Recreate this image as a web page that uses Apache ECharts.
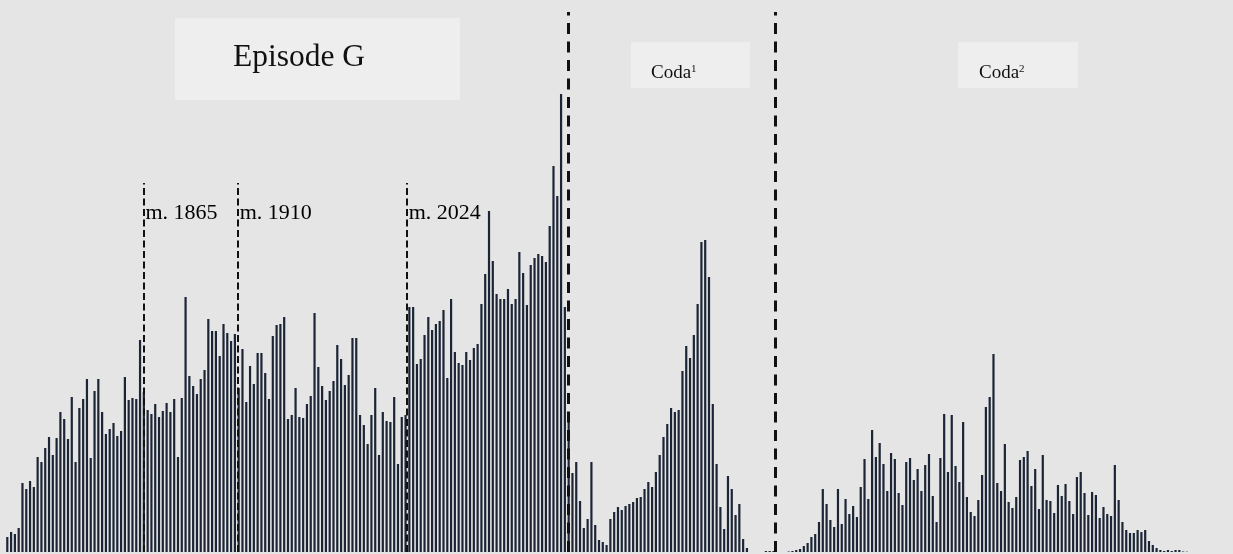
<!DOCTYPE html>
<html>
<head>
<meta charset="utf-8">
<script src="https://cdn.jsdelivr.net/npm/echarts@6/dist/echarts.min.js"></script>
<style>
  html, body { margin: 0; padding: 0; background: #ffffff; }
  #chart { width: 1233px; height: 554px; }
</style>
</head>
<body>
<div id="chart"></div>
<script>
// Per-bar activity level across the passage (one value per time slice)
const episodeG = [
  15, 20, 18, 24, 69, 63, 71, 65, 95, 90, 104, 115, 97, 114, 140, 133, 113, 155, 90, 144,
  153, 173, 94, 161, 173, 140, 118, 123, 129, 116, 121, 175, 152, 154, 153, 212, 160, 142, 138, 148,
  135, 141, 149, 140, 153, 95, 154, 255, 176, 166, 158, 173, 182, 233, 221, 221, 196, 228, 219, 211,
  218, 164, 203, 150, 186, 168, 199, 199, 179, 153, 216, 227, 228, 235, 133, 137, 164, 135, 134, 148,
  156, 239, 185, 166, 152, 161, 171, 207, 193, 167, 177, 214, 214, 137, 127, 108, 137, 164, 97, 140,
  131, 130, 155, 88, 135, 137, 245, 245, 188, 193, 217, 235, 222, 228, 231, 242, 174, 253, 200, 189,
  187, 200, 192, 204, 208, 248, 278, 341, 291, 258, 253, 253, 263, 248, 253, 300, 279, 247, 287, 294,
  298, 296, 290, 326, 386, 356, 458, 245
];
const coda1 = [
  137, 79, 90, 51, 24, 33, 90, 27, 12, 10, 7, 33, 40, 45, 42, 46, 48, 50, 54, 55,
  63, 70, 65, 80, 97, 115, 128, 144, 140, 142, 181, 206, 194, 217, 248, 310, 312, 275, 148, 88,
  45, 23, 76, 63, 37, 48, 13, 4, 0, 0, 0, 0, 1, 1, 1
];
const coda2 = [
  0, 0, 0, 0.5, 1, 2, 3, 6, 9, 15, 18, 30, 63, 48, 32, 25, 63, 28, 53, 38,
  46, 35, 65, 93, 53, 122, 95, 109, 88, 61, 99, 93, 59, 47, 90, 94, 72, 83, 61, 87,
  98, 56, 30, 94, 138, 80, 137, 86, 70, 130, 55, 40, 36, 52, 77, 145, 155, 198, 69, 61,
  108, 50, 44, 55, 92, 95, 101, 66, 83, 43, 97, 52, 51, 39, 67, 56, 68, 51, 38, 75,
  80, 59, 37, 60, 57, 34, 45, 38, 36, 87, 52, 30, 22, 19, 19, 22, 20, 22, 11, 7,
  4, 2, 1, 2, 1, 2, 2, 0.5, 0.3
];
const tailSlots = 10;

// Section dividers (position in slice units) and measure markers
const measureMarks = [
  { label: 'm. 1865', at: 35.9 },
  { label: 'm. 1910', at: 60.75 },
  { label: 'm. 2024', at: 105.3 }
];
const sectionBreaks = [147.9, 202.4];

const values = episodeG.concat(coda1, coda2, new Array(tailSlots).fill(0));
const categories = values.map((_, i) => String(i + 1));
const N = values.length;

const markTop = 369;
const breakTop = 540;
const yMax = 552;

const chart = echarts.init(document.getElementById('chart'), null, { renderer: 'canvas' });

const serif = "'Liberation Serif', 'DejaVu Serif', serif";
const codaRich = {
  a: { fontFamily: serif, fontSize: 19, fill: '#111111' },
  s: { fontFamily: serif, fontSize: 11, fill: '#111111', verticalAlign: 'top' }
};

chart.setOption({
  backgroundColor: '#e5e5e5',
  animation: false,
  grid: { left: 5.4, right: 1233 - 5.4 - N * 3.793, top: 0, bottom: 2, containLabel: false },
  xAxis: [
    { type: 'category', data: categories, show: false, boundaryGap: true },
    { type: 'value', min: -0.5, max: N - 0.5, show: false }
  ],
  yAxis: { type: 'value', min: 0, max: yMax, show: false },
  series: [
    {
      type: 'bar',
      data: values,
      barWidth: 2.2,
      itemStyle: { color: '#1c2535' },
      silent: true
    },
    {
      type: 'scatter',
      xAxisIndex: 1,
      symbolSize: 0,
      silent: true,
      itemStyle: { opacity: 1 },
      data: measureMarks.map(m => ({ value: [m.at, yMax - 213], name: m.label })),
      label: {
        show: true,
        position: 'right',
        distance: 2,
        formatter: '{b}',
        fontFamily: serif,
        fontSize: 22,
        color: '#000000',
        opacity: 1
      },
      markLine: {
        silent: true,
        symbol: ['none', 'none'],
        label: { show: false },
        data: measureMarks.map(m => [
          { coord: [m.at, 0], lineStyle: { color: '#111', width: 2, type: [7, 3.5] } },
          { coord: [m.at, markTop] }
        ]).concat(sectionBreaks.map(b => [
          { coord: [b, 0], lineStyle: { color: '#111', width: 3, type: [11, 7.5] } },
          { coord: [b, breakTop] }
        ]))
      }
    }
  ],
  graphic: [
    { type: 'rect', shape: { x: 175, y: 18, width: 285, height: 82 }, style: { fill: '#eeeeee' }, silent: true },
    { type: 'text', x: 233, y: 58, style: { text: 'Episode G', font: '31.5px ' + serif, fill: '#111', textVerticalAlign: 'middle' }, silent: true },
    { type: 'rect', shape: { x: 631, y: 42, width: 119, height: 46 }, style: { fill: '#eeeeee' }, silent: true },
    { type: 'text', x: 651, y: 73, style: { text: '{a|Coda}{s|1}', textVerticalAlign: 'middle', rich: codaRich }, silent: true },
    { type: 'rect', shape: { x: 958, y: 42, width: 120, height: 46 }, style: { fill: '#eeeeee' }, silent: true },
    { type: 'text', x: 979, y: 73, style: { text: '{a|Coda}{s|2}', textVerticalAlign: 'middle', rich: codaRich }, silent: true }
  ]
});
</script>
</body>
</html>
